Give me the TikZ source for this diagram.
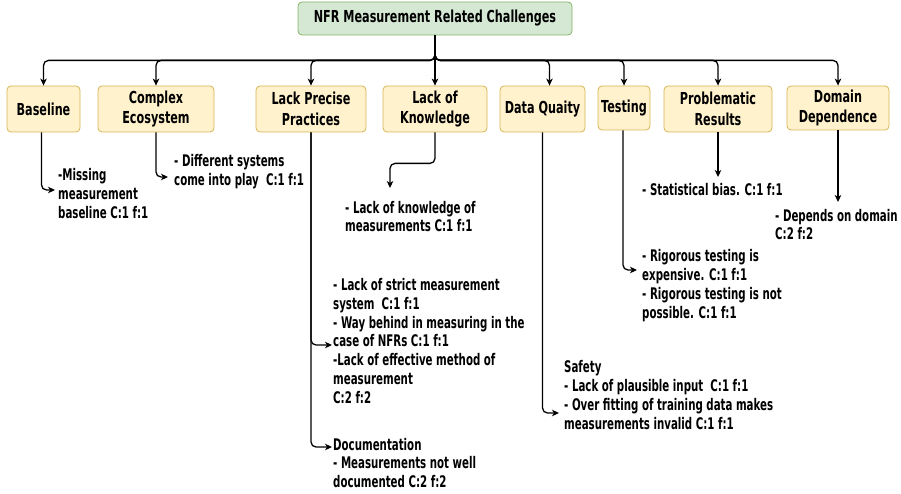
\documentclass[tikz,border=0pt]{standalone}
\usepackage{fontspec}
\setmainfont{DejaVu Sans}[FakeStretch=0.64]
\newfontfamily\labelfont{DejaVu Sans}[FakeStretch=0.68]
\usetikzlibrary{arrows.meta}
\definecolor{yellowF}{HTML}{FFF2CC}
\definecolor{yellowS}{HTML}{D6B656}
\definecolor{greenF}{HTML}{D5E8D4}
\definecolor{greenS}{HTML}{82B366}
\begin{document}
\begin{tikzpicture}[x=1pt,y=-1pt,
  font=\bfseries\fontsize{16}{18.8}\selectfont,
  box/.style={draw=yellowS, fill=yellowF, rounded corners=4pt, line width=0.8pt, align=center, inner sep=0pt,
    font=\labelfont\bfseries\fontsize{16.5}{20.5}\selectfont},
  rootbox/.style={draw=greenS, fill=greenF, rounded corners=4pt, line width=0.8pt, align=center, inner sep=0pt,
    font=\labelfont\bfseries\fontsize{16.5}{20.5}\selectfont},
  txt/.style={anchor=west, inner sep=0pt, align=left},
  arr/.style={draw=black, line width=1.3pt, rounded corners=5pt, -{Stealth[length=7pt,width=6.5pt,inset=2pt]}}
]
\useasboundingbox (0,0) rectangle (901,494);

\node[rootbox, minimum width=274pt, minimum height=33pt] (root) at (435,18.5) {NFR Measurement Related Challenges};

\node[box, minimum width=73pt, minimum height=46pt] (base) at (43.5,109) {Baseline};
\node[box, minimum width=116pt, minimum height=46pt] (complex) at (156,109) {Complex\\Ecosystem};
\node[box, minimum width=110pt, minimum height=46pt] (precise) at (311,109) {Lack Precise\\Practices};
\node[box, minimum width=104pt, minimum height=46pt] (know) at (435,109) {Lack of\\Knowledge};
\node[box, minimum width=85pt, minimum height=46pt] (dataq) at (542.5,109) {Data Quaity};
\node[box, minimum width=52pt, minimum height=44pt] (testing) at (624,108) {Testing};
\node[box, minimum width=108pt, minimum height=46pt] (prob) at (718,109) {Problematic\\Results};
\node[box, minimum width=102pt, minimum height=44pt] (domain) at (838,108) {Domain\\Dependence};

% root to children
\foreach \c in {base,complex,precise,know,testing,prob,domain}
  \draw[arr] (root.south) -- ++(0,25) -| (\c.north);
\draw[arr] (root.south) -- ++(0,25) -| ([xshift=7pt]dataq.north);

% text nodes
\node[txt] (tbase) at (58,193.5) {-Missing\\measurement\\baseline C:1 f:1};
\node[txt] (tcomplex) at (174,171.5) {- Different systems\\come into play~~C:1 f:1};
\node[txt] (tknow) at (345,216.5) {- Lack of knowledge of\\measurements C:1 f:1};
\node[txt] (tprec1) at (333,341) {- Lack of strict measurement\\system~~C:1 f:1\\- Way behind in measuring in the\\case of NFRs C:1 f:1\\-Lack of effective method of\\measurement\\C:2 f:2};
\node[txt] (tprec2) at (333,463) {Documentation\\- Measurements not well\\documented C:2 f:2};
\node[txt] (tdata) at (564,395) {Safety\\- Lack of plausible input~~C:1 f:1\\- Over fitting of training data makes\\measurements invalid C:1 f:1};
\node[txt] (ttest) at (642,285.5) {- Rigorous testing is\\expensive. C:1 f:1\\- Rigorous testing is not\\possible. C:1 f:1};
\node[txt] (tstat) at (642,190) {- Statistical bias. C:1 f:1};
\node[txt] (tdom) at (775,224.5) {- Depends on domain\\C:2 f:2};

% arrow tips
\coordinate (abase) at (55,190);
\coordinate (acomplex) at (168,177);
\coordinate (aknow) at (390,188);
\coordinate (aprec1) at (332,345);
\coordinate (aprec2) at (332,447);
\coordinate (adata) at (559,413);
\coordinate (atest) at (637,270);
\coordinate (aprob) at (718,177);
\coordinate (adom) at (838,202);

\draw[arr] ([xshift=-2pt]base.south) |- (abase);
\draw[arr] (complex.south) |- (acomplex);
\draw[arr] (know.south) -- ++(0,31) -| (aknow);
\draw[arr] (precise.south) |- (aprec1);
\draw[arr] (precise.south) |- (aprec2);
\draw[arr] (dataq.south) |- (adata);
\draw[arr] ([xshift=-1pt]testing.south) |- (atest);
\draw[arr] (prob.south) -- (aprob);
\draw[arr] (domain.south) -- (adom);
\end{tikzpicture}
\end{document}
